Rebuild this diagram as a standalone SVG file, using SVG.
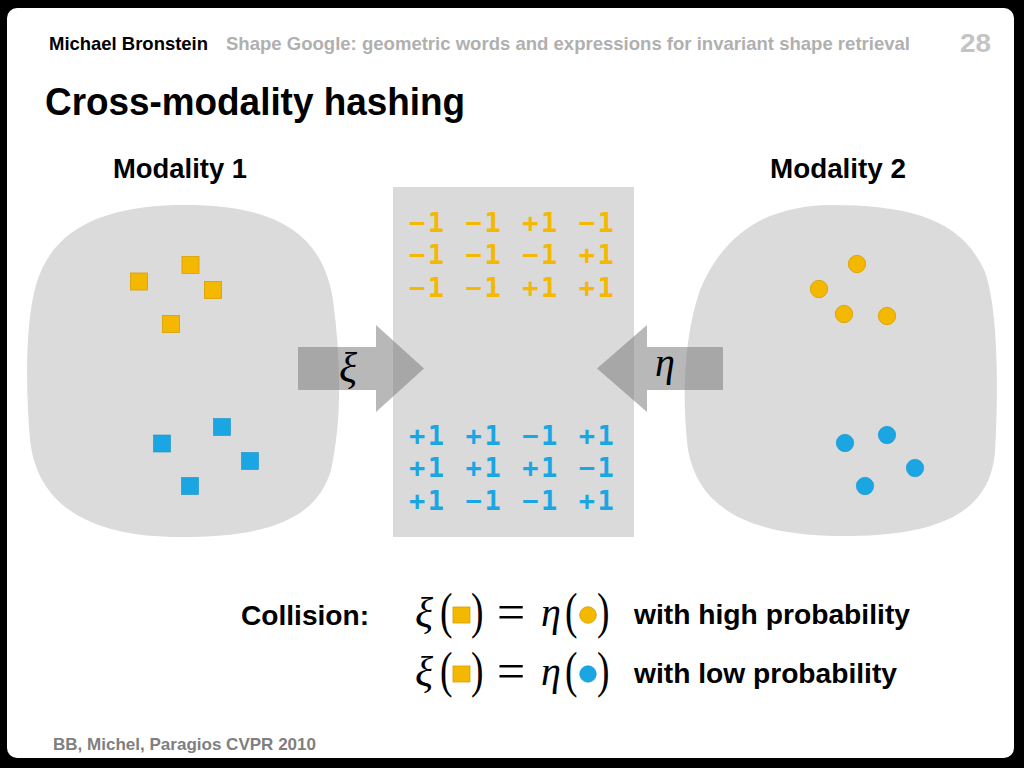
<svg xmlns="http://www.w3.org/2000/svg" width="1024" height="768" viewBox="0 0 1024 768">
  <defs>
    <style>
      .sans { font-family: "Liberation Sans", Arial, sans-serif; font-weight: bold; }
      .serif { font-family: "Liberation Serif", "Times New Roman", serif; }
      .it { font-style: italic; }
      .paren { font-family: "Liberation Serif", "Times New Roman", serif; font-size: 50px; fill: #000; }
      .mono { font-family: "DejaVu Sans Mono", "Liberation Mono", monospace; font-size: 27px; font-weight: bold; letter-spacing: 2.6px; }
      .blob { fill: #dbdbdb; }
      .sq-o { fill: #f5b800; stroke: #d69e00; stroke-width: 0.8; }
      .sq-b { fill: #19a6e3; stroke: #1593c9; stroke-width: 0.6; }
      .dot-o { fill: #f5b800; stroke: #d69e00; stroke-width: 0.8; }
      .dot-b { fill: #19a6e3; stroke: #1593c9; stroke-width: 0.6; }
      .arrow { fill: #7c7c7c; fill-opacity: 0.54; }
      .orange { fill: #f5b800; }
      .blue { fill: #19a6e3; }
    </style>
  </defs>

  <rect x="0" y="0" width="1024" height="768" fill="#000"/>
  <rect x="7" y="8" width="1007" height="750" rx="10" fill="#fff"/>

  <g id="header">
    <text class="sans" x="49" y="50" font-size="19" fill="#000" textLength="159" lengthAdjust="spacingAndGlyphs">Michael Bronstein</text>
    <text class="sans" x="226" y="50" font-size="19" fill="#b0b0b0" textLength="684" lengthAdjust="spacingAndGlyphs">Shape Google: geometric words and expressions for invariant shape retrieval</text>
    <text class="sans" x="960" y="52" font-size="26" fill="#c4c4c4" textLength="31" lengthAdjust="spacingAndGlyphs">28</text>
  </g>

  <g id="title">
    <text class="sans" x="45" y="115" font-size="38" fill="#000" textLength="420" lengthAdjust="spacingAndGlyphs">Cross-modality hashing</text>
  </g>

  <g id="modality1">
    <text class="sans" x="113" y="178" font-size="27" fill="#000" textLength="134" lengthAdjust="spacingAndGlyphs">Modality 1</text>
    <path class="blob" d="M 175,205 C 268,203 322,228 333,300 C 341,360 342,420 331,470 C 316,522 262,537 180,537 C 100,537 38,512 30,440 C 25,380 26,320 36,285 C 52,228 105,207 175,205 Z"/>
    <rect class="sq-o" x="130.5" y="273" width="17" height="17"/>
    <rect class="sq-o" x="182" y="256.5" width="17" height="17"/>
    <rect class="sq-o" x="204.5" y="281.5" width="17" height="17"/>
    <rect class="sq-o" x="162.5" y="315.5" width="17" height="17"/>
    <rect class="sq-b" x="213.5" y="418.5" width="17" height="17"/>
    <rect class="sq-b" x="153.5" y="435" width="17" height="17"/>
    <rect class="sq-b" x="241.5" y="452.5" width="17" height="17"/>
    <rect class="sq-b" x="181.5" y="477.5" width="17" height="17"/>
  </g>

  <g id="modality2">
    <text class="sans" x="770" y="178" font-size="27" fill="#000" textLength="136" lengthAdjust="spacingAndGlyphs">Modality 2</text>
    <path class="blob" d="M 830,205 C 912,205 962,220 985,272 C 999,312 998,400 995,452 C 990,512 940,535 850,536 C 760,537 700,515 688,450 C 682,400 683,340 700,290 C 725,230 770,206 830,205 Z"/>
    <circle class="dot-o" cx="857" cy="264" r="8.7"/>
    <circle class="dot-o" cx="819" cy="289" r="8.7"/>
    <circle class="dot-o" cx="844" cy="314" r="8.7"/>
    <circle class="dot-o" cx="887" cy="316" r="8.7"/>
    <circle class="dot-b" cx="887" cy="435" r="8.7"/>
    <circle class="dot-b" cx="845" cy="443" r="8.7"/>
    <circle class="dot-b" cx="915" cy="468" r="8.7"/>
    <circle class="dot-b" cx="865" cy="486" r="8.7"/>
  </g>

  <g id="hash-codes">
    <rect x="393" y="187" width="241" height="350" fill="#dadada"/>
    <text class="mono orange" x="409" y="232" xml:space="preserve">−1 −1 +1 −1</text>
    <text class="mono orange" x="409" y="264" xml:space="preserve">−1 −1 −1 +1</text>
    <text class="mono orange" x="409" y="297" xml:space="preserve">−1 −1 +1 +1</text>
    <text class="mono blue" x="409" y="445" xml:space="preserve">+1 +1 −1 +1</text>
    <text class="mono blue" x="409" y="477" xml:space="preserve">+1 +1 +1 −1</text>
    <text class="mono blue" x="409" y="510" xml:space="preserve">+1 −1 −1 +1</text>
  </g>

  <g id="connectors">
    <path class="arrow" d="M 298,347 L 376,347 L 376,325 L 424,368.5 L 376,412 L 376,390 L 298,390 Z"/>
    <path class="arrow" d="M 723,347 L 647,347 L 647,325 L 597,368.5 L 647,412 L 647,390 L 723,390 Z"/>
    <text class="serif it" x="339" y="382" font-size="42" fill="#000">ξ</text>
    <text class="serif it" x="655" y="376" font-size="40" fill="#000">η</text>
  </g>

  <g id="formula">
    <text class="sans" x="241" y="625" font-size="28" fill="#000" textLength="128" lengthAdjust="spacingAndGlyphs">Collision:</text>

    <text class="serif it" x="415" y="627" font-size="42" fill="#000">ξ</text>
    <text class="paren" transform="translate(440,628) scale(0.75,1)">(</text>
    <rect class="sq-o" x="453" y="607" width="17" height="16"/>
    <text class="paren" transform="translate(471,628) scale(0.75,1)">)</text>
    <text class="serif" x="497" y="628.5" font-size="50" fill="#000">=</text>
    <text class="serif it" x="541" y="626" font-size="40" fill="#000">η</text>
    <text class="paren" transform="translate(565,628) scale(0.75,1)">(</text>
    <circle class="dot-o" cx="588" cy="615" r="8.3"/>
    <text class="paren" transform="translate(597,628) scale(0.75,1)">)</text>
    <text class="sans" x="634" y="624" font-size="28" fill="#000" textLength="276" lengthAdjust="spacingAndGlyphs">with high probability</text>

    <text class="serif it" x="415" y="686" font-size="42" fill="#000">ξ</text>
    <text class="paren" transform="translate(440,687) scale(0.75,1)">(</text>
    <rect class="sq-o" x="453" y="666" width="17" height="16"/>
    <text class="paren" transform="translate(471,687) scale(0.75,1)">)</text>
    <text class="serif" x="497" y="687.5" font-size="50" fill="#000">=</text>
    <text class="serif it" x="541" y="685" font-size="40" fill="#000">η</text>
    <text class="paren" transform="translate(565,687) scale(0.75,1)">(</text>
    <circle class="dot-b" cx="588" cy="674" r="8.3"/>
    <text class="paren" transform="translate(597,687) scale(0.75,1)">)</text>
    <text class="sans" x="634" y="683" font-size="28" fill="#000" textLength="263" lengthAdjust="spacingAndGlyphs">with low probability</text>
  </g>

  <g id="footer">
    <text class="sans" x="53" y="750" font-size="17" fill="#7f7f7f" textLength="263" lengthAdjust="spacingAndGlyphs">BB, Michel, Paragios CVPR 2010</text>
  </g>
</svg>
